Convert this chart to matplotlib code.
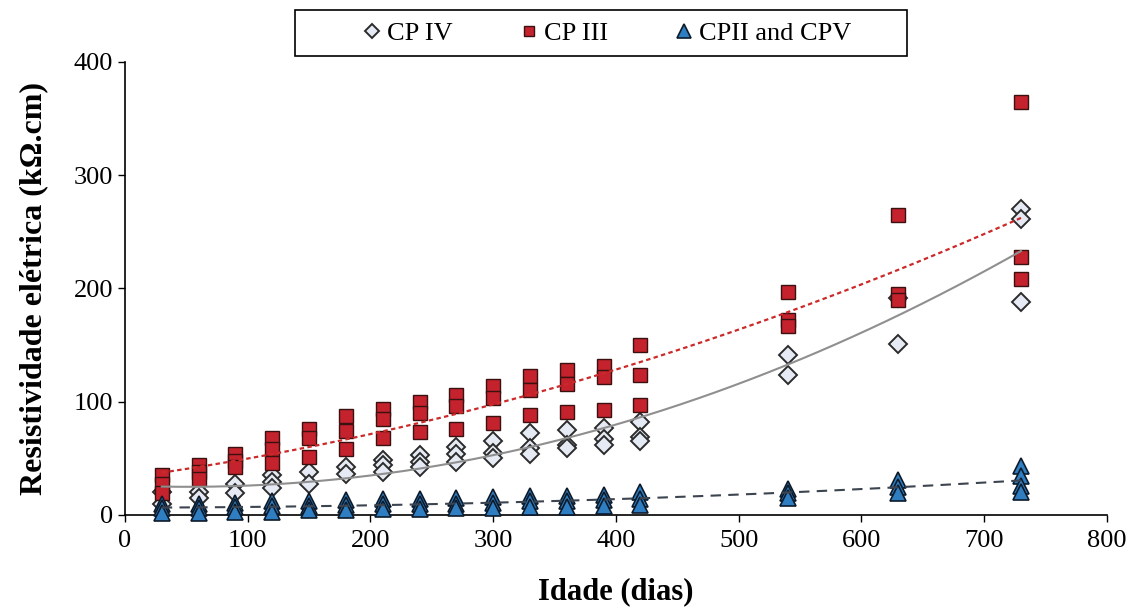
import matplotlib.pyplot as plt
import numpy as np
from matplotlib.patches import Rectangle

plt.rcParams['font.family'] = ['Liberation Serif', 'DejaVu Serif']

# idade (dias) e resistividade (kOhm.cm) por tipo de cimento
ages = [30, 60, 90, 120, 150, 180, 210, 240, 270, 300, 330, 360, 390, 420, 540, 630, 730]

cp4 = [[20, 10], [20, 15], [27, 19], [35, 29, 24], [38, 27], [42, 36],
       [49, 44, 38], [53, 47, 42], [60, 54, 47], [65, 55, 50], [72, 59, 54],
       [75, 62, 59], [77, 67, 62], [82, 69, 65], [141, 124], [192, 151],
       [270, 261, 188]]

cp3 = [[35, 27, 19], [44, 38, 32], [54, 48, 42], [68, 58, 46], [76, 68, 51],
       [87, 74, 58], [94, 85, 68], [100, 90, 73], [106, 96, 76], [114, 103, 81],
       [123, 110, 88], [128, 116, 91], [132, 122, 93], [150, 124, 97],
       [197, 172, 167], [265, 195, 190], [365, 228, 208]]

cp2_cp5 = [[10, 6, 2], [10, 6, 2], [11, 7, 3], [12, 8, 3], [12, 8, 4],
           [13, 9, 4], [14, 10, 5], [14, 10, 5], [15, 10, 6], [16, 11, 6],
           [17, 12, 7], [17, 12, 7], [18, 13, 8], [20, 14, 9], [23, 19, 15],
           [31, 25, 19], [43, 34, 26, 20]]

labels = ['CP IV', 'CP III', 'CPII and CPV']


def flatten(groups):
    xs, ys = [], []
    for a, vals in zip(ages, groups):
        xs += [a] * len(vals)
        ys += vals
    return np.array(xs), np.array(ys)


fig, ax = plt.subplots(figsize=(11.4, 6.12), dpi=100)
fig.subplots_adjust(left=0.1096, right=0.971, bottom=0.1585, top=0.8987)

x4, y4 = flatten(cp4)
x3, y3 = flatten(cp3)
x2, y2 = flatten(cp2_cp5)

ax.plot(x4, y4, linestyle='none', marker='D', markersize=9, markerfacecolor='#e6eaf4',
        markeredgecolor='#2b2b2b', markeredgewidth=1.4, label=labels[0], clip_on=False, zorder=3)
ax.plot(x3, y3, linestyle='none', marker='s', markersize=9.5, markerfacecolor='#c4222c',
        markeredgecolor='#3a1010', markeredgewidth=1.0, label=labels[1], clip_on=False, zorder=3)
ax.plot(x2, y2, linestyle='none', marker='^', markersize=12, markerfacecolor='#2f7ec1',
        markeredgecolor='#0d1a2a', markeredgewidth=1.2, label=labels[2], clip_on=False, zorder=4)

# linhas de tendencia polinomiais (grau 2)
xx = np.linspace(30, 730, 200)
ax.plot(xx, np.polyval(np.polyfit(x4, y4, 2), xx), color='#8f8f8f', lw=1.5, zorder=5)
ax.plot(xx, np.polyval(np.polyfit(x3, y3, 2), xx), color='#cc2a2a', lw=1.6,
        linestyle=(0, (2, 1.5)), zorder=5)
ax.plot(xx, np.polyval(np.polyfit(x2, y2, 2), xx), color='#3c4450', lw=1.5,
        linestyle=(0, (5, 3.5)), zorder=5)

ax.set_xlim(0, 800)
ax.set_ylim(0, 400)
ax.set_xticks(range(0, 801, 100))
ax.set_yticks(range(0, 401, 100))
ax.tick_params(labelsize=19, direction='out', length=5, width=1)
ax.tick_params(axis='x', pad=6)
for s in ['top', 'right']:
    ax.spines[s].set_visible(False)
for s in ['left', 'bottom']:
    ax.spines[s].set_linewidth(1.2)

ax.set_xlabel('Idade (dias)', fontsize=22, fontweight='bold', labelpad=18)
ax.set_ylabel('Resistividade elétrica (kΩ.cm)', fontsize=23, fontweight='bold', labelpad=18)

# legenda sem moldura + caixa propria, mais larga que o conteudo
ax.legend(loc='center', bbox_to_anchor=(0.489, 1.064), ncol=3, fontsize=19,
          frameon=False, handletextpad=0.05, columnspacing=2.4, handlelength=1.0,
          borderpad=0.3, borderaxespad=0, markerscale=0.8)
ax.add_patch(Rectangle((0.173, 1.013), 0.623, 0.102, transform=ax.transAxes,
                       fill=False, edgecolor='black', lw=1.2, clip_on=False))

plt.savefig('out.png', dpi=100)
